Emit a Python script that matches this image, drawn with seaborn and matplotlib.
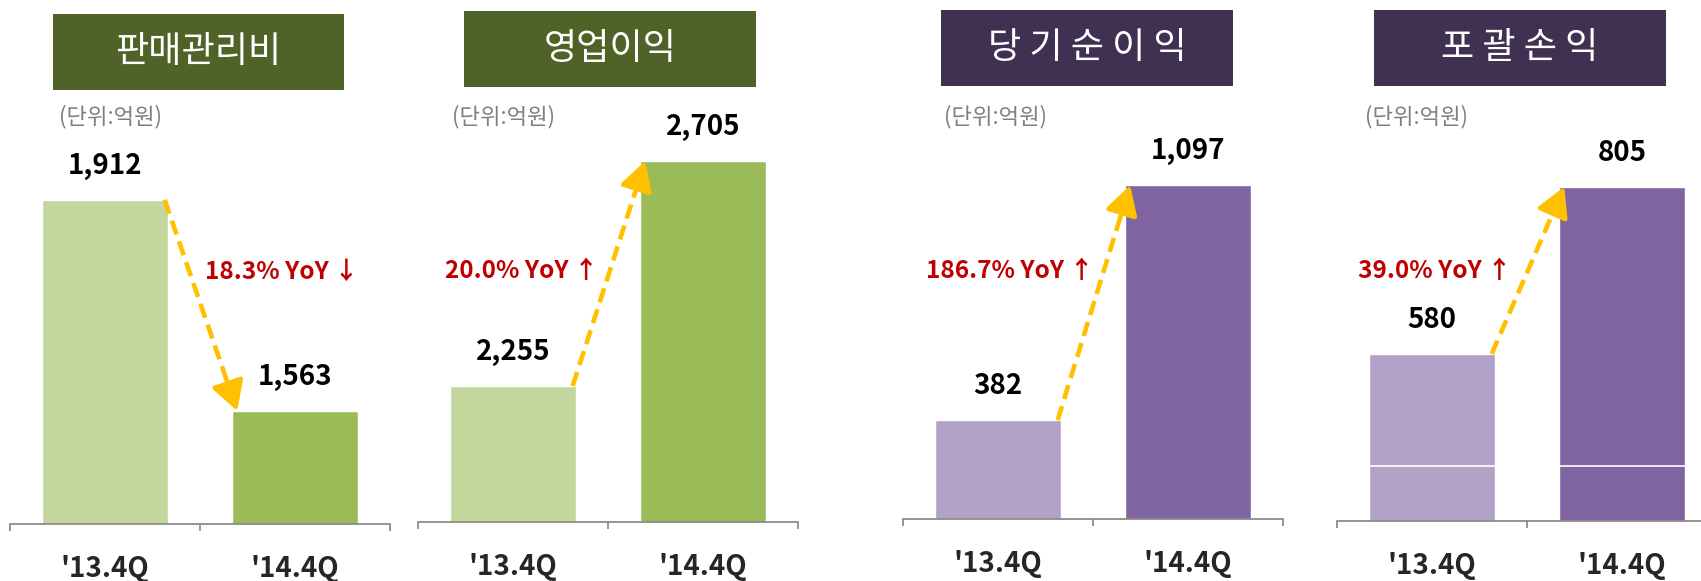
import numpy as np
import pandas as pd
import matplotlib.pyplot as plt
from matplotlib.patches import Rectangle
import seaborn as sns

# Data
quarters = ["'13.4Q", "'14.4Q"]
sga_expense = [1912, 1563]
operating_income = [2255, 2705]
net_income = [382, 1097]
comprehensive_income = [580, 805]
titles = ["판매관리비", "영업이익", "당 기 순 이 익", "포 괄 손 익"]
yoy_labels = ["18.3% YoY ↓", "20.0% YoY ↑", "186.7% YoY ↑", "39.0% YoY ↑"]
unit_label = "(단위:억원)"

# Layout (pixels of the 1701x581 canvas)
W, H = 1701, 581
AX_TOP = 100
BAR_WIDTH = 0.668
panels = [
    dict(values=sga_expense, left=10, base=524, ylim=(1376, 2077),
         box=(53, 344, 14, 90), unit_x=59, yoy=(0.716, 0.594),
         colors=("#C3D69B", "#9BBB59"), box_color="#4F6228"),
    dict(values=operating_income, left=418, base=522, ylim=(1983, 2827),
         box=(464, 756, 11, 87), unit_x=452, yoy=(0.273, 0.595),
         colors=("#C3D69B", "#9BBB59"), box_color="#4F6228"),
    dict(values=net_income, left=903, base=519, ylim=(81, 1356),
         box=(941, 1233, 10, 86), unit_x=944, yoy=(0.282, 0.592),
         colors=("#B3A2C7", "#8064A2"), box_color="#403152"),
    dict(values=comprehensive_income, left=1337, base=521, ylim=(355, 922),
         box=(1374, 1666, 10, 86), unit_x=1365, yoy=(0.258, 0.594),
         colors=("#B3A2C7", "#8064A2"), box_color="#403152", white_line=429),
]

sns.set_style("white")
plt.rcParams['font.family'] = ['Noto Sans CJK KR', 'DejaVu Sans']

fig = plt.figure(figsize=(W / 100, H / 100), dpi=100)

for title, yoy, p in zip(titles, yoy_labels, panels):
    ax = fig.add_axes([p["left"] / W, 1 - p["base"] / H, 380 / W, (p["base"] - AX_TOP) / H])
    df = pd.DataFrame({"quarter": quarters, "value": p["values"]})
    sns.barplot(data=df, x="quarter", y="value", hue="quarter", palette=list(p["colors"]),
                width=BAR_WIDTH, saturation=1, legend=False, ax=ax)
    ax.set_xlim(-0.5, 1.5)
    ax.set_ylim(*p["ylim"])
    ax.set_xlabel("")
    ax.set_ylabel("")
    ax.set_yticks([])
    for s in ["left", "right", "top"]:
        ax.spines[s].set_visible(False)
    ax.spines["bottom"].set_color("#8C8C8C")
    ax.spines["bottom"].set_linewidth(1.3)
    ax.set_xticks([-0.5, 0.5, 1.5], minor=True)
    ax.tick_params(axis="x", which="minor", bottom=True, length=5, width=1.3,
                   color="#8C8C8C", direction="out")
    ax.tick_params(axis="x", which="major", length=0, pad=22, labelsize=20)
    for lab in ax.get_xticklabels():
        lab.set_fontweight("bold")

    if "white_line" in p:
        ax.axhline(p["white_line"], color="white", lw=1.2, zorder=5)

    # value labels
    for j, v in enumerate(p["values"]):
        ax.annotate(f"{v:,}", (j, v), xytext=(0, 24.5), textcoords="offset points",
                    ha="center", va="center", fontsize=20, fontweight="bold", color="black")

    # dashed yoy arrow
    x0, y0 = BAR_WIDTH / 2 - 0.02, p["values"][0]
    x1, y1 = 1 - BAR_WIDTH / 2 + 0.03, p["values"][1]
    xm, ym = x0 + 0.86 * (x1 - x0), y0 + 0.86 * (y1 - y0)
    ax.plot([x0, xm], [y0, ym], color="#FFC000", lw=3.3, linestyle=(0, (3.2, 1.6)),
            solid_capstyle="butt", clip_on=False, zorder=6)
    ax.annotate("", xy=(x1, y1), xytext=(xm, ym),
                arrowprops=dict(arrowstyle="-|>,head_length=0.8,head_width=0.45",
                                color="#FFC000", lw=3.3, mutation_scale=22,
                                shrinkA=0, shrinkB=0), zorder=6)

    ax.text(p["yoy"][0], p["yoy"][1], yoy, transform=ax.transAxes, ha="center", va="center",
            color="#C00000", fontsize=17.5, fontweight="bold")

    # title box
    bx0, bx1, by0, by1 = p["box"]
    fig.add_artist(Rectangle((bx0 / W, 1 - by1 / H), (bx1 - bx0) / W, (by1 - by0) / H,
                             transform=fig.transFigure, facecolor=p["box_color"], edgecolor="none"))
    fig.text((bx0 + bx1) / 2 / W, 1 - (by0 + by1) / 2 / H, title, ha="center", va="center",
             color="white", fontsize=26)
    fig.text(p["unit_x"] / W, 1 - 117 / H, unit_label, ha="left", va="center",
             color="#7F7F7F", fontsize=16)

fig.savefig("out.png", dpi=100)
